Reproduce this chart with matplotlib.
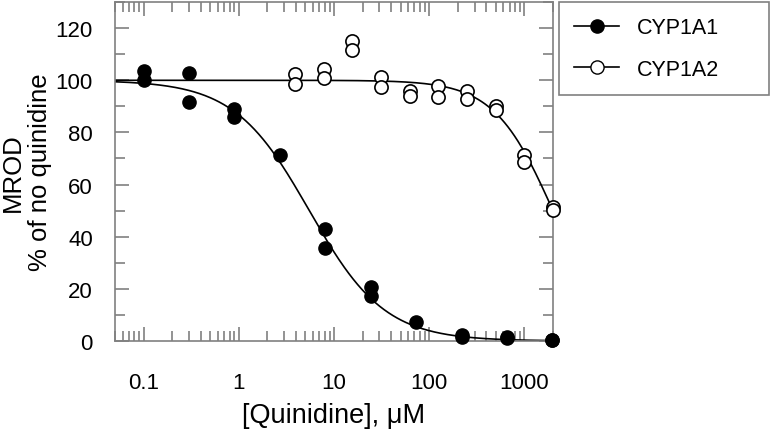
import numpy as np
import matplotlib
matplotlib.use('Agg')
import matplotlib.pyplot as plt
from matplotlib.lines import Line2D
from matplotlib.ticker import LogLocator, FixedLocator, MultipleLocator, FuncFormatter

plt.rcParams.update({
    'font.family': ['Liberation Sans', 'DejaVu Sans'],
    'font.size': 13,
})

# --- datos ---
conc_1a1 = [0.1, 0.1, 0.3, 0.3, 0.9, 0.9, 2.7, 8.1, 8.1, 24.3, 24.3,
            73, 219, 219, 657, 657, 1970, 1970]
mrod_1a1 = [103.5, 100, 102.7, 91.8, 88.9, 86.1, 71.4, 43.1, 35.8, 20.6, 17.4,
            7.1, 2.2, 1.6, 1.5, 1.0, 0.5, 0.3]

conc_1a2 = [3.9, 3.9, 7.8, 7.8, 15.6, 15.6, 31.25, 31.25, 62.5, 62.5,
            125, 125, 250, 250, 500, 500, 1000, 1000, 2000, 2000]
mrod_1a2 = [102.3, 98.5, 104.2, 101.0, 115.0, 111.8, 101.3, 97.6, 95.9, 94.0,
            97.8, 93.4, 95.7, 92.7, 90.2, 88.5, 71.4, 68.6, 51.4, 50.1]

# parámetros del ajuste (IC50, Hill) estimados de las curvas
ic50_1a1, hill_1a1 = 5.5, 1.1
ic50_1a2, hill_1a2 = 2000.0, 1.4

GRIS = '#808080'


def curva(x, ic50, h, top=100.0, bottom=0.0):
    return bottom + (top - bottom) / (1 + (x / ic50) ** h)


fig = plt.figure(figsize=(7.73, 4.39), dpi=100)
ax = fig.add_axes([0.1488, 0.221, 0.5666, 0.772])

xs = np.logspace(np.log10(0.05), np.log10(2000), 400)
ax.plot(xs, curva(xs, ic50_1a1, hill_1a1), color='black', lw=1.2, zorder=2)
ax.plot(xs, curva(xs, ic50_1a2, hill_1a2), color='black', lw=1.2, zorder=2)

ax.plot(conc_1a1, mrod_1a1, 'o', ms=9.5, mfc='black', mec='black',
        mew=1, ls='none', zorder=3, clip_on=False)
ax.plot(conc_1a2, mrod_1a2, 'o', ms=9.5, mfc='white', mec='black',
        mew=1.2, ls='none', zorder=3, clip_on=False)

ax.set_xscale('log')
ax.set_xlim(0.05, 2000)
ax.set_ylim(0, 130)

ax.xaxis.set_major_locator(FixedLocator([0.1, 1, 10, 100, 1000]))
ax.xaxis.set_minor_locator(LogLocator(base=10, subs=np.arange(2, 10)))
ax.xaxis.set_major_formatter(FuncFormatter(lambda v, p: f'{v:g}'))
ax.set_yticks([0, 20, 40, 60, 80, 100, 120])
ax.yaxis.set_minor_locator(MultipleLocator(10))

ax.tick_params(which='both', direction='in', top=True, right=True,
               color=GRIS, width=1.2, labelsize=16)
ax.tick_params(which='major', length=10)
ax.tick_params(which='minor', length=7)
ax.tick_params(axis='x', which='major', pad=22)
ax.tick_params(axis='y', which='major', pad=16)

for s in ax.spines.values():
    s.set_color(GRIS)
    s.set_linewidth(1.2)

ax.set_xlabel('[Quinidine], μM', fontsize=19.5, labelpad=7)
# etiqueta Y en dos líneas, colocada a mano para que no se corte
ax.text(-0.203, 0.5, 'MROD\n% of no quinidine', transform=ax.transAxes,
        rotation=90, ha='center', va='center', multialignment='center',
        fontsize=18.5, linespacing=1.15)

handles = [
    Line2D([], [], color='black', lw=1.2, marker='o', ms=9.5,
           mfc='black', mec='black'),
    Line2D([], [], color='black', lw=1.2, marker='o', ms=9.5,
           mfc='white', mec='black'),
]
leg = ax.legend(handles, ['CYP1A1', 'CYP1A2'], loc='upper left',
                bbox_to_anchor=(1.0137, 0.70, 0.479, 0.30), mode='expand',
                borderaxespad=0, fontsize=15.5, handlelength=2.1,
                handletextpad=0.8, labelspacing=0.95, borderpad=0.7,
                fancybox=False, framealpha=1)
leg.get_frame().set_edgecolor(GRIS)
leg.get_frame().set_linewidth(1.2)

fig.savefig('out.png', dpi=100)
